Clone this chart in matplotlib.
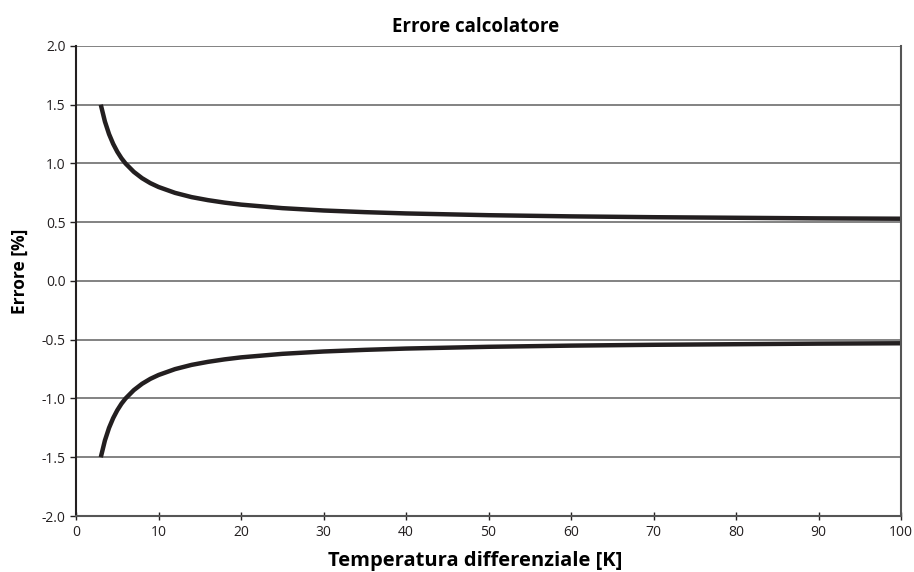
import numpy as np
import matplotlib.pyplot as plt

# valori
dt = [3, 3.5, 4, 4.5, 5, 5.5, 6, 7, 8, 9, 10, 12, 14, 16, 18, 20, 25, 30,
      35, 40, 50, 60, 70, 80, 90, 100]
err_sup = [1.5, 1.357, 1.25, 1.167, 1.1, 1.045, 1.0, 0.929, 0.875, 0.833, 0.8,
           0.75, 0.714, 0.688, 0.667, 0.65, 0.62, 0.6, 0.586, 0.575, 0.56,
           0.55, 0.543, 0.538, 0.533, 0.53]
err_inf = [-v for v in err_sup]

plt.rcParams['font.family'] = ['Open Sans', 'DejaVu Sans']

fig = plt.figure(figsize=(9.14, 5.72), dpi=100)
ax = fig.add_axes([0.0832, 0.0979, 0.9026, 0.8217])

ax.plot(dt, err_sup, color="#231f20", lw=3.2, solid_capstyle="butt")
ax.plot(dt, err_inf, color="#231f20", lw=3.2, solid_capstyle="butt")

ax.set_xlim(0, 100)
ax.set_ylim(-2, 2)
ax.set_xticks(np.arange(0, 101, 10))
ax.set_yticks(np.arange(-2, 2.01, 0.5))
ax.set_yticklabels(["%.1f" % v for v in np.arange(-2, 2.01, 0.5)])
ax.grid(axis="y", color="#6d6d6d", lw=1.2)
ax.set_axisbelow(True)

ax.spines["top"].set_visible(False)
ax.spines["left"].set_color("#231f20")
ax.spines["left"].set_linewidth(1.5)
ax.spines["right"].set_color("#555555")
ax.spines["right"].set_linewidth(1.5)
ax.spines["bottom"].set_color("#555555")
ax.spines["bottom"].set_linewidth(1.5)
ax.tick_params(axis="both", labelsize=10, colors="#231f20", length=4, width=1)
ax.tick_params(axis="x", direction="inout", length=6)

ax.set_title("Errore calcolatore", fontsize=13.5, fontweight="bold", x=0.484, pad=10)
ax.set_xlabel("Temperatura differenziale [K]", fontsize=14.5, fontweight="bold")
ax.set_ylabel("Errore [%]", fontsize=12.5, fontweight="bold")
ax.xaxis.set_label_coords(0.484, -0.075)
ax.yaxis.set_label_coords(-0.057, 0.52)

fig.savefig("out.png", dpi=100)
